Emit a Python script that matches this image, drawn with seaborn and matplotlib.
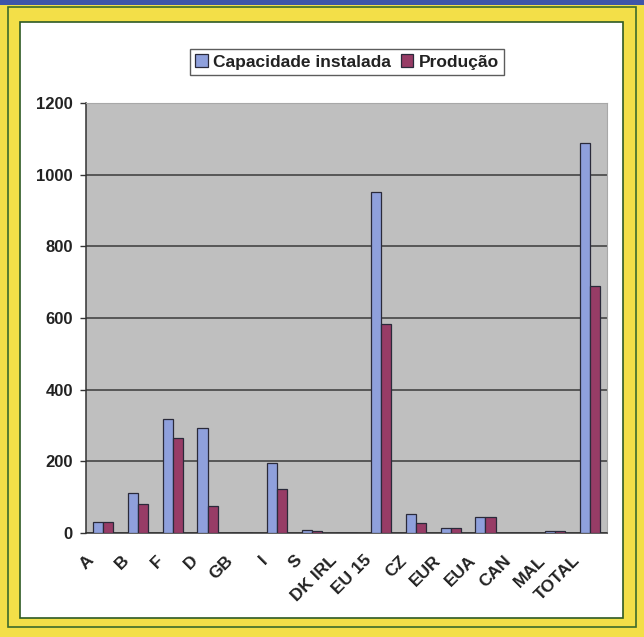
import matplotlib
matplotlib.use("Agg")
import matplotlib.pyplot as plt
from matplotlib.patches import Rectangle
from matplotlib.transforms import ScaledTranslation
import seaborn as sns
import pandas as pd
import numpy as np

categories = ["A", "B", "F", "D", "GB", "I", "S", "DK IRL", "EU 15",
              "CZ", "EUR", "EUA", "CAN", "MAL", "TOTAL"]
capacidade = [30, 111, 317, 292, 1, 194, 8, 1, 952, 52, 14, 45, 1, 5, 1087]
producao = [30, 80, 264, 76, 1, 123, 5, 1, 582, 28, 14, 45, 1, 5, 690]
series_names = ["Capacidade instalada", "Produção"]
y_ticks = [0, 200, 400, 600, 800, 1000, 1200]

df = pd.DataFrame({
    "categoria": categories * 2,
    "serie": [series_names[0]] * len(categories) + [series_names[1]] * len(categories),
    "valor": capacidade + producao,
})

sns.set_style("white")
plt.rcParams["font.family"] = ["Liberation Sans", "DejaVu Sans"]
plt.rcParams["font.weight"] = "bold"

W, H = 644, 637
fig = plt.figure(figsize=(W / 100, H / 100), dpi=100)
fig.patch.set_facecolor("#f3df48")

# blue strip along the top edge
fig.add_artist(Rectangle((0, 1 - 5 / H), 1, 5 / H, transform=fig.transFigure,
                         facecolor="#3f55a8", edgecolor="none", zorder=0))
# outer green frame line
fig.add_artist(Rectangle((8 / W, 10 / H), 628 / W, 620 / H, transform=fig.transFigure,
                         facecolor="none", edgecolor="#3c6b2c", linewidth=1.2, zorder=0))
# white chart panel
fig.add_artist(Rectangle((20 / W, (H - 618) / H), 603 / W, 596 / H, transform=fig.transFigure,
                         facecolor="white", edgecolor="#2e5a24", linewidth=1.2, zorder=0))

ax = fig.add_axes([86 / W, (H - 533) / H, (607 - 86) / W, (533 - 103) / H])
ax.set_facecolor("#bfbfbf")

palette = {series_names[0]: "#8fa0dc", series_names[1]: "#973c66"}
sns.barplot(data=df, x="categoria", y="valor", hue="serie", order=categories,
            hue_order=series_names, palette=palette, width=0.58, saturation=1,
            edgecolor="#2a2a3a", linewidth=0.9, ax=ax, legend=True, zorder=3)

ax.set_ylim(0, 1200)
ax.set_xlim(-0.5, len(categories) - 0.5)
ax.set_yticks(y_ticks)
ax.set_yticklabels([str(v) for v in y_ticks], fontsize=12, fontweight="bold",
                   color="#222222")
ax.yaxis.grid(True, color="#3a3a3a", linewidth=1.1, zorder=1)
ax.set_axisbelow(True)

# category labels at bar centres, tick marks at category boundaries
ax.set_xticks(np.arange(len(categories)))
ax.set_xticklabels(categories, rotation=45, ha="right", va="center",
                   rotation_mode="anchor", fontsize=12.5, fontweight="bold",
                   color="#222222")
ax.tick_params(axis="x", length=0, pad=18)
shift = ScaledTranslation(-0.12, 0, fig.dpi_scale_trans)
for lab in ax.get_xticklabels():
    lab.set_transform(lab.get_transform() + shift)
ax.set_xticks(np.arange(-0.5, len(categories)), minor=True)
ax.tick_params(axis="x", which="minor", length=4, width=1, color="#333333", direction="out")
ax.tick_params(axis="y", length=4.5, width=1, color="#333333", direction="out", left=True, pad=5)

ax.set_xlabel("")
ax.set_ylabel("")
for side in ("left", "bottom"):
    ax.spines[side].set_color("#333333")
    ax.spines[side].set_linewidth(1.1)
for side in ("top", "right"):
    ax.spines[side].set_color("#a8a8a8")
    ax.spines[side].set_linewidth(0.8)

leg = ax.legend(loc="center", bbox_to_anchor=(347 / W, (H - 62) / H),
                bbox_transform=fig.transFigure, ncol=2, frameon=True,
                fancybox=False, edgecolor="#333333", fontsize=12.5,
                handlelength=0.7, handleheight=0.7, handletextpad=0.3,
                columnspacing=0.6, borderpad=0.3)
leg.get_frame().set_linewidth(1.0)
for t in leg.get_texts():
    t.set_fontweight("bold")
    t.set_color("#222222")

fig.savefig("out.png", dpi=100, facecolor=fig.get_facecolor())
